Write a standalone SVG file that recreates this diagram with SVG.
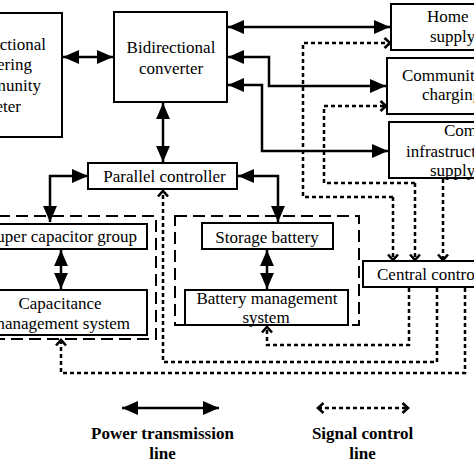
<svg xmlns="http://www.w3.org/2000/svg" width="474" height="474" viewBox="0 0 474 474">
<defs>
<style>
.box{fill:#fff;stroke:#000;stroke-width:2}
.grp{fill:none;stroke:#000;stroke-width:2;stroke-dasharray:12,6}
.t{font-family:"Liberation Serif","Times New Roman",serif;font-size:17px;fill:#000}
.c{text-anchor:middle}
.e{text-anchor:end}
.b{font-weight:bold;font-size:17px}
.pw{fill:none;stroke:#000;stroke-width:2.5;marker-start:url(#ah);marker-end:url(#ah)}
.sg{fill:none;stroke:#000;stroke-width:2.5;stroke-dasharray:4,3;marker-end:url(#ch)}
.sg2{fill:none;stroke:#000;stroke-width:2.5;stroke-dasharray:4,3;marker-start:url(#ch);marker-end:url(#ch)}
</style>
<marker id="ah" markerUnits="userSpaceOnUse" markerWidth="16" markerHeight="14" viewBox="0 0 15 13" refX="15" refY="6.5" orient="auto-start-reverse">
<path d="M0,0 L15,6.5 L0,13 z" fill="#000"/>
</marker>
<marker id="ch" markerUnits="userSpaceOnUse" markerWidth="12" markerHeight="16" viewBox="-2 -8 10 16" refX="6" refY="0" orient="auto-start-reverse">
<path d="M0.5,-5 L6,0 L0.5,5" fill="none" stroke="#000" stroke-width="2.6"/>
</marker>
</defs>
<rect width="474" height="474" fill="#fff"/>

<g id="groups">
<rect class="grp" x="-20" y="216" width="176" height="123"/>
<rect class="grp" x="175" y="216" width="184" height="109"/>
</g>

<g id="meter">
<rect class="box" x="-60" y="13" width="122" height="124"/>
<text class="t e" x="46" y="50">Bidirectional</text>
<text class="t e" x="32" y="70">metering</text>
<text class="t e" x="41" y="91">community</text>
<text class="t e" x="21" y="112">meter</text>
</g>

<g id="converter">
<rect class="box" x="114" y="12" width="113" height="90"/>
<text class="t c" x="171" y="53">Bidirectional</text>
<text class="t c" x="171" y="74">converter</text>
</g>

<g id="parallel">
<rect class="box" x="88" y="163" width="149" height="26"/>
<text class="t c" x="164.5" y="182">Parallel controller</text>
</g>

<g id="supercap">
<rect class="box" x="-25" y="224" width="172" height="25"/>
<text class="t e" x="137" y="242">Super capacitor group</text>
</g>

<g id="capms">
<rect class="box" x="-25" y="290" width="172" height="45"/>
<text class="t c" x="60" y="309">Capacitance</text>
<text class="t e" x="130" y="329">management system</text>
</g>

<g id="battery">
<rect class="box" x="202" y="223" width="131" height="26"/>
<text class="t c" x="267" y="243">Storage battery</text>
</g>

<g id="bms">
<rect class="box" x="185" y="290" width="163" height="35"/>
<text class="t c" x="267" y="304">Battery management</text>
<text class="t c" x="266" y="323">system</text>
</g>

<g id="central">
<rect class="box" x="363" y="261" width="150" height="26"/>
<text class="t" x="377" y="280">Central controller</text>
</g>

<g id="home">
<rect class="box" x="391" y="4" width="120" height="46"/>
<text class="t" x="427" y="22">Home</text>
<text class="t" x="430" y="42">supply</text>
</g>

<g id="charging">
<rect class="box" x="387" y="58" width="124" height="56"/>
<text class="t" x="402" y="81">Community</text>
<text class="t" x="422" y="100">charging</text>
</g>

<g id="infra">
<rect class="box" x="389" y="122" width="122" height="56"/>
<text class="t" x="444" y="136">Community</text>
<text class="t" x="406" y="157">infrastructure</text>
<text class="t" x="430" y="176">supply</text>
</g>

<g id="connectors">
<path class="pw" d="M63,57 H113"/>
<path class="pw" d="M163,103 V162"/>
<path class="pw" d="M88,176 H50 V222"/>
<path class="pw" d="M238,176 H278 V222"/>
<path class="pw" d="M61,250 V289"/>
<path class="pw" d="M267,250 V289"/>
<path class="pw" d="M228,27 H390"/>
<path class="pw" d="M228,57 H269 V86 H386"/>
<path class="pw" d="M228,85 H262 V151 H388"/>

<path class="sg" d="M393,197 V260"/>
<path class="sg" d="M393,197 H303 V43 H390"/>
<path class="sg" d="M415,183 V260"/>
<path class="sg" d="M415,183 H324 V106 H386"/>
<path class="sg" d="M443,179 V260"/>
<path class="sg" d="M409,288 V345 H267 V327"/>
<path class="sg" d="M437,288 V362 H163 V191"/>
<path class="sg" d="M465,288 V373 H61 V340"/>
</g>

<g id="legend">
<path class="pw" d="M122,408 H219"/>
<path class="sg2" d="M318,408 H408"/>
<text class="t b c" x="162.5" y="439">Power transmission</text>
<text class="t b c" x="162.5" y="459">line</text>
<text class="t b c" x="362.5" y="439">Signal control</text>
<text class="t b c" x="362.5" y="459">line</text>
</g>
</svg>
